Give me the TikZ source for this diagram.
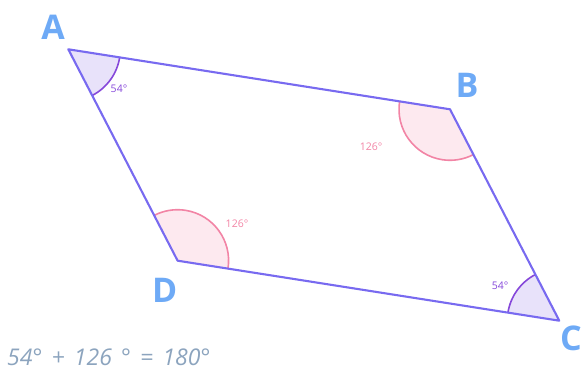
\documentclass[tikz,border=0pt]{standalone}
\usepackage{fontspec}
\setmainfont{Open Sans}
\usepackage{tikz}
\usetikzlibrary{angles}

\definecolor{edgeblue}{RGB}{120,106,240}
\definecolor{acutefill}{RGB}{232,226,250}
\definecolor{acutearc}{RGB}{134,72,218}
\definecolor{obtusefill}{RGB}{253,233,239}
\definecolor{obtusearc}{RGB}{242,132,165}
\definecolor{vertexblue}{RGB}{110,170,246}
\definecolor{sumgray}{RGB}{140,164,190}

\tikzset{
    acute/.style={draw=acutearc, fill=acutefill, line width=1.6pt, angle radius=52pt},
    obtuse/.style={draw=obtusearc, fill=obtusefill, line width=1.6pt, angle radius=51pt},
    vertexname/.style={text=vertexblue, inner sep=0pt, font=\fontsize{34}{34}\selectfont\bfseries},
    anglename/.style={inner sep=0pt, font=\fontsize{10.5}{10.5}\selectfont},
}

\begin{document}
\begin{tikzpicture}[x=1pt, y=1pt]
        \useasboundingbox (0,0) rectangle (581,369);
        \coordinate (a) at (68.3,319.7);
        \coordinate (b) at (450,259.7);
        \coordinate (c) at (559.3,48.3);
        \coordinate (d) at (177.6,108.3);

        % angle sectors
        \pic[acute] {angle = d--a--b};
        \pic[obtuse] {angle = a--b--c};
        \pic[acute] {angle = b--c--d};
        \pic[obtuse] {angle = c--d--a};

        \draw[edgeblue, line width=2.1pt, line join=round] (a) -- (b) -- (c) -- (d) -- cycle;

        \node[vertexname] (namea) at (53,342) {A};
        \node[vertexname] (nameb) at (467,284) {B};
        \node[vertexname] (namec) at (571,31) {C};
        \node[vertexname] (named) at (164.7,78.5) {D};

        \node[anglename, text=acutearc] (anga) at (119,280) {54°};
        \node[anglename, text=obtusearc] (angb) at (371,222) {126°};
        \node[anglename, text=acutearc] (angc) at (500,83) {54°};
        \node[anglename, text=obtusearc] (angd) at (237,145) {126°};

        \node[anchor=base west, inner sep=0pt, text=sumgray,
            font=\fontsize{23}{23}\selectfont\itshape] (sum) at (7,3.5)
            {\spaceskip=9.2pt\relax 54° + 126 ° = 180°};
    \end{tikzpicture}
\end{document}
